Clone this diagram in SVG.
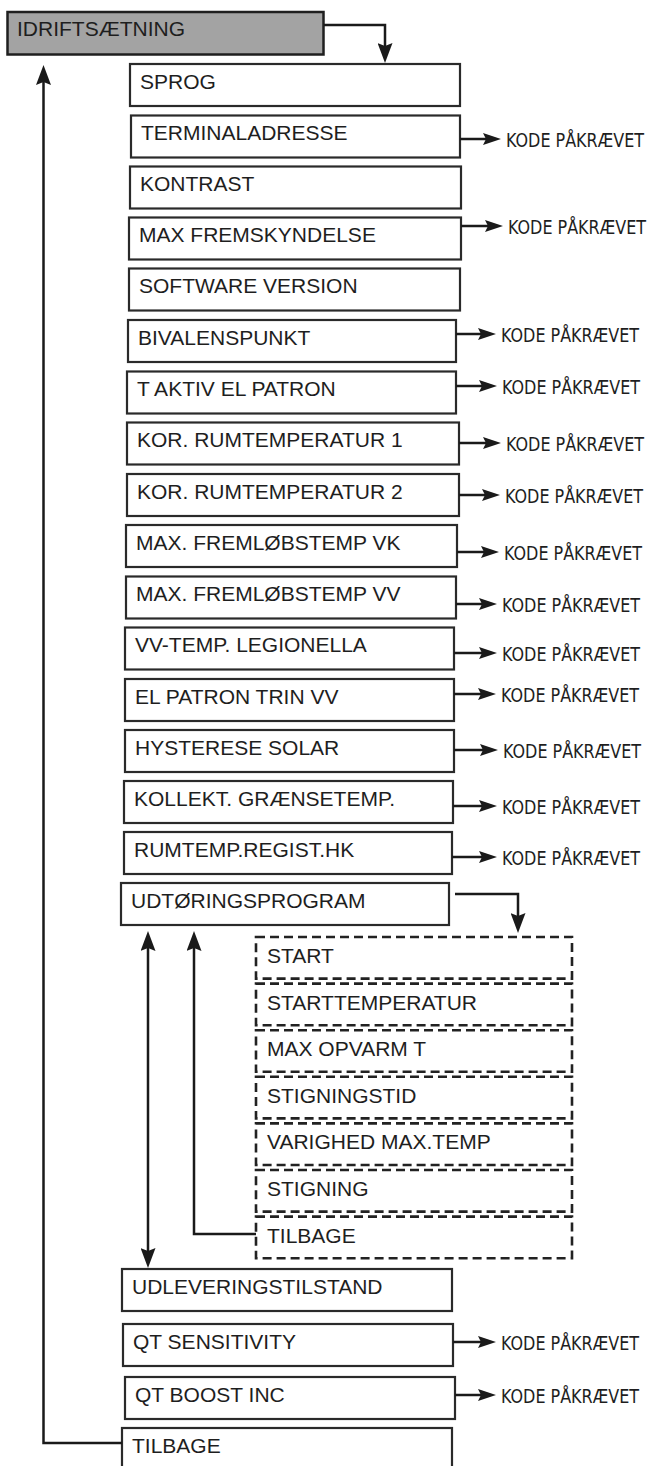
<svg xmlns="http://www.w3.org/2000/svg" width="656" height="1466" viewBox="0 0 656 1466">
<style>
.bx{fill:#fff;stroke:#2a2a2a;stroke-width:2.2}
.top{fill:#a3a3a3;stroke:#1f1f1f;stroke-width:2.5}
.db{fill:#fff;stroke:#222;stroke-width:2.6;stroke-dasharray:9 5}
.t{font-family:"Liberation Sans",Arial,sans-serif;font-size:21px;fill:#1e1e1e}
.k{font-family:"Liberation Sans Narrow","DejaVu Sans Condensed",sans-serif;font-size:19px;fill:#1e1e1e}
.ln{fill:none;stroke:#1a1a1a;stroke-width:2.5}
.sa{marker-end:url(#ah)}
.ba{marker-end:url(#bh)}
</style>
<defs>
<marker id="ah" markerUnits="userSpaceOnUse" viewBox="0 0 18 12" refX="10" refY="6" markerWidth="18" markerHeight="12" orient="auto"><path d="M0,0 L18,6 L0,12 L3,6 Z" fill="#1a1a1a"/></marker>
<marker id="bh" markerUnits="userSpaceOnUse" viewBox="0 0 20 15" refX="11" refY="7.5" markerWidth="20" markerHeight="15" orient="auto"><path d="M0,0 L20,7.5 L0,15 L3,7.5 Z" fill="#1a1a1a"/></marker>
<marker id="bs" markerUnits="userSpaceOnUse" viewBox="0 0 20 15" refX="11" refY="7.5" markerWidth="20" markerHeight="15" orient="auto-start-reverse"><path d="M0,0 L20,7.5 L0,15 L3,7.5 Z" fill="#1a1a1a"/></marker>
</defs>

<g id="idrift"><rect class="top" x="7.5" y="12" width="316" height="42.5"/><text class="t" x="17" y="35.5">IDRIFTSÆTNING</text></g>

<g id="sprog"><rect class="bx" x="130" y="64" width="330" height="42"/><text class="t" x="140" y="88.5">SPROG</text></g>
<g id="terminal"><rect class="bx" x="131" y="115.5" width="329" height="42"/><text class="t" x="141" y="140">TERMINALADRESSE</text></g>
<g id="kontrast"><rect class="bx" x="130" y="166.5" width="331" height="42"/><text class="t" x="140" y="191">KONTRAST</text></g>
<g id="maxfrem"><rect class="bx" x="129" y="217.5" width="332" height="42"/><text class="t" x="139" y="242">MAX FREMSKYNDELSE</text></g>
<g id="software"><rect class="bx" x="129" y="268.5" width="331" height="42"/><text class="t" x="139" y="293">SOFTWARE VERSION</text></g>
<g id="bivalens"><rect class="bx" x="128" y="320" width="328" height="42"/><text class="t" x="138" y="344.5">BIVALENSPUNKT</text></g>
<g id="taktiv"><rect class="bx" x="127" y="371.5" width="329" height="42"/><text class="t" x="137" y="396">T AKTIV EL PATRON</text></g>
<g id="kor1"><rect class="bx" x="127" y="422.5" width="332" height="42"/><text class="t" x="137" y="447">KOR. RUMTEMPERATUR 1</text></g>
<g id="kor2"><rect class="bx" x="127" y="474" width="332" height="42"/><text class="t" x="137" y="498.5">KOR. RUMTEMPERATUR 2</text></g>
<g id="maxvk"><rect class="bx" x="126" y="525" width="331" height="42"/><text class="t" x="136" y="549.5">MAX. FREMLØBSTEMP VK</text></g>
<g id="maxvv"><rect class="bx" x="126" y="576.5" width="330" height="42"/><text class="t" x="136" y="601">MAX. FREMLØBSTEMP VV</text></g>
<g id="vvtemp"><rect class="bx" x="125" y="627.5" width="329" height="42"/><text class="t" x="135" y="652">VV-TEMP. LEGIONELLA</text></g>
<g id="elpatron"><rect class="bx" x="125" y="679" width="329" height="42"/><text class="t" x="135" y="703.5">EL PATRON TRIN VV</text></g>
<g id="hysterese"><rect class="bx" x="125" y="730" width="329" height="42"/><text class="t" x="135" y="754.5">HYSTERESE SOLAR</text></g>
<g id="kollekt"><rect class="bx" x="124" y="781" width="329" height="42"/><text class="t" x="134" y="805.5">KOLLEKT. GRÆNSETEMP.</text></g>
<g id="rumtemp"><rect class="bx" x="124" y="832" width="328" height="42"/><text class="t" x="134" y="856.5">RUMTEMP.REGIST.HK</text></g>
<g id="udtoering"><rect class="bx" x="121" y="883" width="328" height="42"/><text class="t" x="131" y="907.5">UDTØRINGSPROGRAM</text></g>

<g id="d-start"><rect class="db" x="256" y="937" width="316" height="41.6"/><text class="t" x="267" y="963">START</text></g>
<g id="d-starttemp"><rect class="db" x="256" y="983.6" width="316" height="41.6"/><text class="t" x="267" y="1009.6">STARTTEMPERATUR</text></g>
<g id="d-maxopvarm"><rect class="db" x="256" y="1030.2" width="316" height="41.6"/><text class="t" x="267" y="1056.2">MAX OPVARM T</text></g>
<g id="d-stigningstid"><rect class="db" x="256" y="1076.8" width="316" height="41.6"/><text class="t" x="267" y="1102.8">STIGNINGSTID</text></g>
<g id="d-varighed"><rect class="db" x="256" y="1123.4" width="316" height="41.6"/><text class="t" x="267" y="1149.4">VARIGHED MAX.TEMP</text></g>
<g id="d-stigning"><rect class="db" x="256" y="1170" width="316" height="41.6"/><text class="t" x="267" y="1196">STIGNING</text></g>
<g id="d-tilbage"><rect class="db" x="256" y="1216.6" width="316" height="41.6"/><text class="t" x="267" y="1242.6">TILBAGE</text></g>

<g id="udlevering"><rect class="bx" x="122" y="1269" width="330" height="42"/><text class="t" x="132" y="1293.5">UDLEVERINGSTILSTAND</text></g>
<g id="qtsens"><rect class="bx" x="123" y="1324" width="330" height="42"/><text class="t" x="133" y="1348.5">QT SENSITIVITY</text></g>
<g id="qtboost"><rect class="bx" x="125" y="1377" width="330" height="42"/><text class="t" x="135" y="1401.5">QT BOOST INC</text></g>
<g id="tilbage"><rect class="bx" x="122" y="1428" width="330" height="44"/><text class="t" x="132" y="1452.5">TILBAGE</text></g>

<g id="kode-labels">
<text class="k" x="506" y="147" textLength="138" lengthAdjust="spacingAndGlyphs">KODE PÅKRÆVET</text>
<text class="k" x="508" y="234" textLength="138" lengthAdjust="spacingAndGlyphs">KODE PÅKRÆVET</text>
<text class="k" x="501" y="342" textLength="138" lengthAdjust="spacingAndGlyphs">KODE PÅKRÆVET</text>
<text class="k" x="502" y="394" textLength="138" lengthAdjust="spacingAndGlyphs">KODE PÅKRÆVET</text>
<text class="k" x="506" y="451" textLength="138" lengthAdjust="spacingAndGlyphs">KODE PÅKRÆVET</text>
<text class="k" x="505" y="503" textLength="138" lengthAdjust="spacingAndGlyphs">KODE PÅKRÆVET</text>
<text class="k" x="504" y="560" textLength="138" lengthAdjust="spacingAndGlyphs">KODE PÅKRÆVET</text>
<text class="k" x="502" y="612" textLength="138" lengthAdjust="spacingAndGlyphs">KODE PÅKRÆVET</text>
<text class="k" x="502" y="661" textLength="138" lengthAdjust="spacingAndGlyphs">KODE PÅKRÆVET</text>
<text class="k" x="501" y="702" textLength="138" lengthAdjust="spacingAndGlyphs">KODE PÅKRÆVET</text>
<text class="k" x="503" y="758" textLength="138" lengthAdjust="spacingAndGlyphs">KODE PÅKRÆVET</text>
<text class="k" x="502" y="814" textLength="138" lengthAdjust="spacingAndGlyphs">KODE PÅKRÆVET</text>
<text class="k" x="502" y="865" textLength="138" lengthAdjust="spacingAndGlyphs">KODE PÅKRÆVET</text>
<text class="k" x="501" y="1350" textLength="138" lengthAdjust="spacingAndGlyphs">KODE PÅKRÆVET</text>
<text class="k" x="501" y="1403" textLength="138" lengthAdjust="spacingAndGlyphs">KODE PÅKRÆVET</text>
</g>

<g id="connectors">
<path class="ln ba" d="M324,25 H385 V54"/>
<path class="ln ba" d="M122,1443 H43.5 V74"/>
<path class="ln sa" d="M460,139 H493"/>
<path class="ln sa" d="M461,226 H495"/>
<path class="ln sa" d="M456,334 H488"/>
<path class="ln sa" d="M456,386 H489"/>
<path class="ln sa" d="M459,443 H493"/>
<path class="ln sa" d="M459,495 H492"/>
<path class="ln sa" d="M457,552 H491"/>
<path class="ln sa" d="M456,604 H489"/>
<path class="ln sa" d="M454,653 H489"/>
<path class="ln sa" d="M454,694 H488"/>
<path class="ln sa" d="M454,750 H490"/>
<path class="ln sa" d="M453,806 H489"/>
<path class="ln sa" d="M452,857 H489"/>
<path class="ln sa" d="M453,1342 H488"/>
<path class="ln sa" d="M455,1395 H488"/>
<path class="ln ba" d="M455,894 H518 V924"/>
<path class="ln" d="M148,940 V1259" marker-start="url(#bs)" marker-end="url(#bh)"/>
<path class="ln ba" d="M256,1234 H194 V940"/>
</g>
</svg>
